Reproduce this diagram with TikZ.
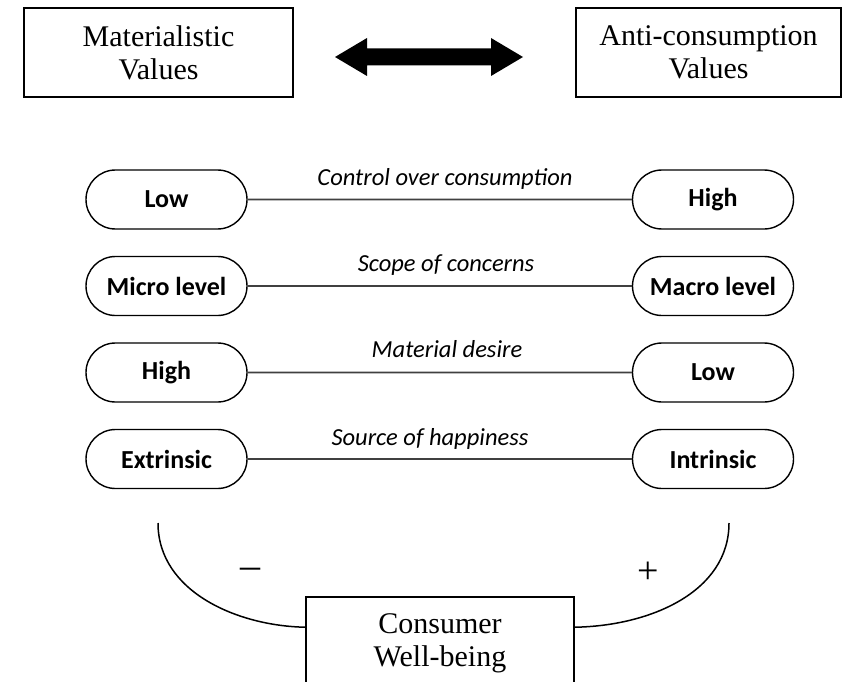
\documentclass[tikz,border=0pt]{standalone}
\usepackage{fontspec}
\setmainfont{Liberation Serif}
\newfontfamily\calfont{Carlito}
\usetikzlibrary{shapes.misc,calc}
\begin{document}
\begin{tikzpicture}[x=1pt,y=-1pt,
  valbox/.style={draw, line width=1.6pt, align=center, inner sep=0pt,
    font=\fontsize{30}{33}\selectfont},
  pill/.style={draw, rounded rectangle, line width=1.4pt, minimum width=161pt,
    minimum height=59pt, inner sep=0pt, font=\calfont\bfseries\fontsize{26}{30}\selectfont},
  link/.style={line width=1.8pt, draw=black!75},
  dimlabel/.style={anchor=base, inner sep=0pt, font=\calfont\itshape\fontsize{24.5}{28}\selectfont},
  arc/.style={line width=1.5pt},
  sign/.style={inner sep=0pt}]
\useasboundingbox (0,0) rectangle (843,682);
\fill[white] (0,0) rectangle (843,682);
% top boxes
\node[valbox, minimum width=269pt, minimum height=89pt] (mat) at (158.5,52.5) {Materialistic\\Values};
\node[valbox, minimum width=265pt, minimum height=89pt] (anti) at (708.5,52.5) {Anti-consumption\\Values};
% double arrow
\fill (335,57) -- (367,38) -- (367,48.5) -- (491,48.5) -- (491,38) -- (523,57)
  -- (491,76) -- (491,65.5) -- (367,65.5) -- (367,76) -- cycle;
% rows
\node[pill] (l1) at (166.5,199.5) {Low};
\node[pill] (r1) at (713,199.5) {High};
\node[pill] (l2) at (166.5,286) {Micro level};
\node[pill] (r2) at (713,286) {Macro level};
\node[pill] (l3) at (166.5,372.5) {High};
\node[pill] (r3) at (713,372.5) {Low};
\node[pill] (l4) at (166.5,459) {Extrinsic};
\node[pill] (r4) at (713,459) {Intrinsic};
\draw[link] (l1) -- (r1);
\draw[link] (l2) -- (r2);
\draw[link] (l3) -- (r3);
\draw[link] (l4) -- (r4);
\node[dimlabel] (t1) at (445,185) {Control over consumption};
\node[dimlabel] (t2) at (446,271) {Scope of concerns};
\node[dimlabel] (t3) at (447,357) {Material desire};
\node[dimlabel] (t4) at (430,445) {Source of happiness};
% bottom box
\node[valbox, minimum width=268pt, minimum height=93pt] (wb) at (440,643.5) {Consumer\\Well-being};
\coordinate (lt) at (158,523);
\coordinate (rt) at (729,523);
\draw[arc] (lt) .. controls (158,592) and (238,626) .. ($(wb.north west)+(0,31)$);
\draw[arc] (rt) .. controls (729,592) and (650,626) .. ($(wb.north east)+(0,31)$);
\node[sign, font=\fontsize{40}{40}\selectfont] (minus) at (250,573) {\textendash};
\node[sign, font=\fontsize{38}{38}\selectfont] (plus) at (648,573) {+};
\end{tikzpicture}
\end{document}
